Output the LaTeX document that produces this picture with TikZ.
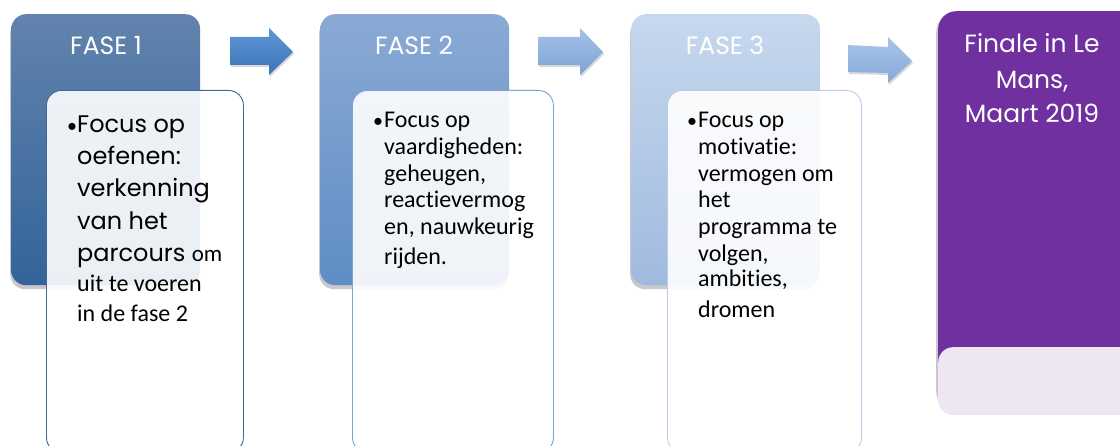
\documentclass[tikz,border=0pt]{standalone}
\usepackage{fontspec}
\setmainfont{Carlito}[Ligatures={NoCommon,NoRequired,NoContextual}]
\newfontfamily\pop{Poppins}
\newfontfamily\carl{Carlito}[Ligatures={NoCommon,NoRequired,NoContextual}]
\usetikzlibrary{shadows}
\definecolor{fAt}{HTML}{6283AD}\definecolor{fAb}{HTML}{33649A}
\definecolor{fBt}{HTML}{8AAAD4}\definecolor{fBb}{HTML}{5E8DC5}
\definecolor{fCt}{HTML}{C7D8EE}\definecolor{fCb}{HTML}{A0BADF}
\definecolor{cA}{HTML}{41699A}\definecolor{cB}{HTML}{7EA3D3}\definecolor{cC}{HTML}{B9CCE7}
\definecolor{aAt}{HTML}{5C98D8}\definecolor{aAb}{HTML}{3C72B4}
\definecolor{aBt}{HTML}{A3C2E8}\definecolor{aBb}{HTML}{7DA2D4}
\definecolor{aCt}{HTML}{A9C6EA}\definecolor{aCb}{HTML}{86A9D8}
\definecolor{purp}{HTML}{7030A0}\definecolor{lav}{HTML}{EFE6F4}
\begin{document}
\begin{tikzpicture}[x=1pt,y=-1pt,
  fasebox/.style={rectangle, rounded corners=15pt, draw=none, inner sep=0pt,
    minimum width=189pt, minimum height=271pt, anchor=north west,
    drop shadow={shadow xshift=-1pt, shadow yshift=-4pt, opacity=0.3, fill=black!70}},
  card/.style={rectangle, rounded corners=15pt, fill=white, fill opacity=0.9,
    line width=0.9pt, inner sep=0pt, minimum height=362pt, anchor=north west},
  hd/.style={text=white, font=\pop\fontsize{25}{30}\selectfont, anchor=base, inner sep=0pt},
  pl/.style={font=\pop\fontsize{24}{28}\selectfont, anchor=base west, inner sep=0pt},
  cl/.style={font=\fontsize{24}{28}\selectfont, anchor=base west, inner sep=0pt},
  bul/.style={font=\fontsize{20}{24}\selectfont, anchor=base west, inner sep=0pt},
  arr/.style={draw=none, drop shadow={shadow xshift=1pt, shadow yshift=-2pt, opacity=0.25, fill=black!60}},
  fin/.style={text=white, font=\pop\fontsize{25}{30}\selectfont, anchor=base, inner sep=0pt}
]
\clip (0,0) rectangle (1120,446);
\useasboundingbox (0,0) rectangle (1120,446);
\fill[white] (0,0) rectangle (1120,446);

% phase boxes
\node[fasebox, top color=fAt, bottom color=fAb] (f1) at (11,14) {};
\node[fasebox, top color=fBt, bottom color=fBb] (f2) at (320,14) {};
\node[fasebox, top color=fCt, bottom color=fCb] (f3) at (631,14) {};
\node[hd] (h1) at (106,55) {FASE 1};
\node[hd] (h2) at (414,55) {FASE 2};
\node[hd] (h3) at (725,55) {FASE 3};

% arrows
\path[arr, top color=aAt, bottom color=aAb] (230,37) -- (269,37) -- (269,28) -- (293,52) -- (269,75) -- (269,65) -- (230,65) -- cycle;
\path[arr, top color=aBt, bottom color=aBb] (538,37) -- (580,37) -- (580,28) -- (603,52) -- (580,75) -- (580,65) -- (538,65) -- cycle;
\path[arr, top color=aCt, bottom color=aCb] (848,45) -- (888,47) -- (888,37) -- (912,61) -- (888,83) -- (888,73) -- (848,72) -- cycle;

% cards
\node[card, draw=cA, minimum width=197pt] (c1) at (46,90) {};
\node[card, draw=cB, minimum width=201pt] (c2) at (352,90) {};
\node[card, draw=cC, minimum width=194pt] (c3) at (667,90) {};

% card 1 text
\node[bul] (b1) at (67,133) {•};
\node[pl] (t1a) at (77,133) {Focus op};
\node[pl] (t1b) at (77,165) {oefenen:};
\node[pl] (t1c) at (77,197) {verkenning};
\node[pl] (t1d) at (77,230) {van het};
\node[pl] (t1e) at (77,262) {parcours {\carl\fontsize{23}{26}\selectfont om}};
\node[cl] (t1f) at (77,292) {uit te voeren};
\node[cl] (t1g) at (77,322) {in de fase 2};

% card 2 text
\node[bul] (b2) at (373,128) {•};
\node[cl] (t2a) at (384,128) {Focus op};
\node[cl] (t2b) at (384,155) {vaardigheden:};
\node[cl] (t2c) at (384,182) {geheugen,};
\node[cl] (t2d) at (384,208) {reactievermog};
\node[cl] (t2e) at (384,235) {en, nauwkeurig};
\node[cl] (t2f) at (384,265) {rijden.};

% card 3 text
\node[bul] (b3) at (687,128) {•};
\node[cl] (t3a) at (698,128) {Focus op};
\node[cl] (t3b) at (698,155) {motivatie:};
\node[cl] (t3c) at (698,182) {vermogen om};
\node[cl] (t3d) at (698,208) {het};
\node[cl] (t3e) at (698,235) {programma te};
\node[cl] (t3f) at (698,262) {volgen,};
\node[cl] (t3g) at (698,287) {ambities,};
\node[cl] (t3h) at (698,318) {dromen};

% final box
\node[rectangle, rounded corners=18pt, fill=purp, inner sep=0pt, minimum width=220pt, minimum height=395pt, anchor=north west,
  drop shadow={shadow xshift=-2pt, shadow yshift=-3pt, opacity=0.3, fill=black!70}] (fb) at (938,11) {};
\node[rectangle, rounded corners=15pt, fill=lav, inner sep=0pt, minimum width=220pt, minimum height=68pt, anchor=north west] (fl) at (938,347) {};
\node[fin] (n1) at (1032,53) {Finale in Le};
\node[fin] (n2) at (1032,89) {Mans,};
\node[fin] (n3) at (1032,123) {Maart 2019};
\end{tikzpicture}
\end{document}
